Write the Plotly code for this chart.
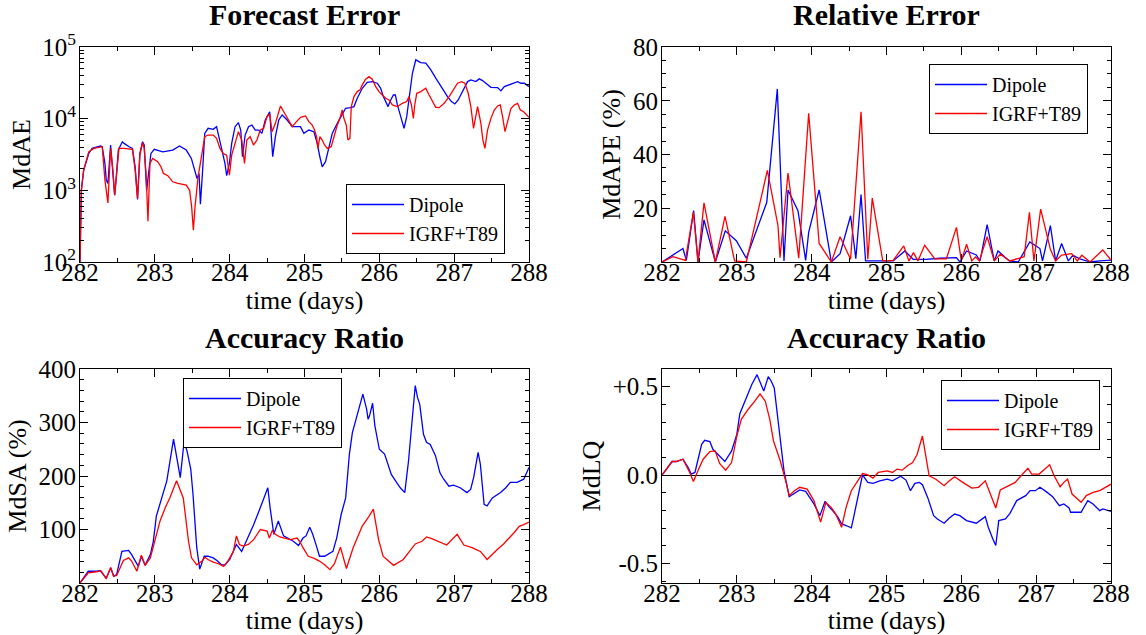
import plotly.graph_objects as go

# ---------------- data ----------------
days_ticks = [282, 283, 284, 285, 286, 287, 288]
series_names = ["Dipole", "IGRF+T89"]

# Panel 1: Forecast Error (MdAE, log scale)
fe_dip_t = [282.000, 282.018, 282.049, 282.117, 282.162, 282.274, 282.297, 282.333, 282.351, 282.373,
            282.409, 282.440, 282.463, 282.485, 282.512, 282.566, 282.589, 282.656, 282.701, 282.737,
            282.769, 282.800, 282.836, 282.858, 282.890, 282.948, 282.993, 283.106, 283.240, 283.330,
            283.420, 283.488, 283.533, 283.564, 283.591, 283.609, 283.636, 283.667, 283.712, 283.780,
            283.825, 283.847, 283.892, 283.937, 283.960, 283.996, 284.027, 284.072, 284.117, 284.148,
            284.171, 284.207, 284.252, 284.297, 284.342, 284.387, 284.431, 284.476, 284.535, 284.575,
            284.611, 284.656, 284.701, 284.768, 284.836, 284.903, 284.946, 284.991, 285.058, 285.125,
            285.170, 285.205, 285.237, 285.281, 285.326, 285.371, 285.438, 285.504, 285.549, 285.616,
            285.661, 285.705, 285.772, 285.839, 285.906, 285.973, 286.018, 286.054, 286.085, 286.116,
            286.152, 286.188, 286.214, 286.241, 286.286, 286.330, 286.366, 286.397, 286.442, 286.487,
            286.554, 286.621, 286.688, 286.754, 286.821, 286.911, 286.964, 287.009, 287.054, 287.112,
            287.179, 287.223, 287.290, 287.335, 287.379, 287.424, 287.491, 287.580, 287.625, 287.670,
            287.737, 287.804, 287.848, 287.893, 287.938, 288.000]
fe_dip_v = [100, 1000, 1910, 3270, 3850, 4150, 4060, 2370, 1390, 1250,
            4290, 1540, 855, 1540, 3650, 4760, 4520, 4060, 3850, 2130,
            745, 3270, 4760, 4290, 1000, 3270, 3730, 3450, 3650, 4150,
            3650, 2790, 1910, 1460, 1720, 641, 1720, 6240, 7330, 7100,
            7730, 6240, 3650, 2370, 1600, 2370, 4520, 7730, 8800, 6940,
            2940, 5910, 7730, 8150, 6940, 6940, 6240, 9580, 12500, 2940,
            5600, 9580, 11250, 9580, 7730, 7730, 7730, 6240, 6940, 6580,
            4520, 2940, 2130, 2510, 4060, 6240, 8610, 11250, 13960, 14260,
            14730, 19250, 26550, 32200, 32900, 31200, 26550, 20300, 17300, 14730,
            18240, 21400, 21400, 15530, 10660, 7330, 10660, 20300, 43000, 66200,
            60700, 59400, 48000, 36700, 28000, 20300, 17300, 16030, 18240, 23860,
            32900, 34750, 32900, 35900, 34000, 31200, 27400, 27150, 24400, 28000,
            29580, 31200, 32900, 31200, 31200, 28000]
fe_igrf_t = [282.000, 282.018, 282.049, 282.117, 282.184, 282.297, 282.333, 282.373, 282.409, 282.440,
             282.463, 282.499, 282.521, 282.589, 282.701, 282.737, 282.769, 282.800, 282.836, 282.858,
             282.885, 282.908, 282.935, 282.971, 283.038, 283.083, 283.115, 283.173, 283.240, 283.308,
             283.420, 283.465, 283.492, 283.515, 283.537, 283.578, 283.622, 283.667, 283.712, 283.780,
             283.825, 283.870, 283.915, 283.960, 283.996, 284.027, 284.072, 284.117, 284.162, 284.198,
             284.229, 284.274, 284.319, 284.364, 284.409, 284.454, 284.499, 284.535, 284.566, 284.611,
             284.679, 284.724, 284.791, 284.836, 284.881, 284.948, 285.013, 285.058, 285.103, 285.134,
             285.161, 285.179, 285.205, 285.237, 285.268, 285.304, 285.357, 285.393, 285.438, 285.473,
             285.504, 285.527, 285.558, 285.580, 285.607, 285.625, 285.661, 285.705, 285.741, 285.772,
             285.817, 285.862, 285.906, 285.951, 285.996, 286.040, 286.085, 286.129, 286.174, 286.241,
             286.308, 286.366, 286.397, 286.429, 286.455, 286.473, 286.500, 286.554, 286.621, 286.665,
             286.710, 286.754, 286.799, 286.866, 286.933, 286.978, 287.045, 287.098, 287.143, 287.188,
             287.223, 287.259, 287.290, 287.313, 287.357, 287.384, 287.411, 287.446, 287.491, 287.536,
             287.580, 287.616, 287.647, 287.679, 287.714, 287.759, 287.804, 287.848, 287.884, 287.929,
             288.000]
fe_igrf_v = [100, 1000, 1910, 3450, 3850, 4060, 1390, 668, 3850, 1910,
             855, 2370, 3850, 3850, 3730, 1910, 769, 3100, 4620, 3850,
             1540, 371, 2370, 2790, 2510, 2130, 1720, 1600, 1315, 1250,
             1180, 1000, 587, 277, 587, 1540, 3100, 5600, 5910, 5910,
             5310, 3850, 3270, 3100, 1630, 3100, 4520, 6580, 5030, 2370,
             5030, 5600, 4290, 5030, 6940, 7330, 10660, 11620, 6580, 8610,
             15040, 12500, 9580, 7730, 8800, 10440, 10900, 9080, 8150, 6940,
             5600, 3850, 5600, 5030, 4290, 3850, 4060, 5600, 8150, 10100,
             13220, 10100, 8150, 5030, 5310, 14730, 20300, 23860, 25180, 29580,
             35500, 38600, 35500, 28000, 23860, 21400, 19250, 18240, 15530, 14730,
             16380, 17300, 20300, 15530, 10100, 15530, 22600, 23860, 26550, 21400,
             17300, 14420, 14260, 16380, 20300, 23860, 31200, 32900, 31200, 22600,
             14730, 7330, 11880, 14730, 8610, 5030, 3850, 6940, 10100, 13220,
             15040, 15530, 10660, 6580, 9080, 13960, 15530, 16380, 13220, 12500,
             10440]

# Panel 2: Relative Error (MdAPE %)
re_dip_t = [282.0, 282.28, 282.325, 282.423, 282.481, 282.561, 282.713, 282.846, 282.993, 283.127,
            283.40, 283.541, 283.630, 283.684, 283.817, 283.92, 283.96, 284.10, 284.263, 284.38,
            284.52, 284.59, 284.66, 284.72, 284.81, 285.0, 285.09, 285.245, 285.356, 285.53,
            285.71, 285.935, 285.98, 286.07, 286.20, 286.25, 286.345, 286.44, 286.49, 286.64,
            286.76, 286.915, 287.05, 287.085, 287.19, 287.26, 287.34, 287.43, 287.49, 287.585,
            287.72, 287.85, 288.0]
re_dip_v = [0, 5.0, 0.6, 19.1, 0, 15.7, 0, 11.6, 7.9, 1.4,
            22.2, 64.4, 0.4, 26.8, 19.1, 0.6, 11, 26.8, 0, 3.1,
            17.2, 1.2, 25.1, 0.4, 0.4, 0.4, 0.4, 4.1, 1.0, 1.0,
            1.4, 1.6, 0, 4.1, 2.6, 0.4, 13.9, 0.4, 4.1, 0.4,
            0, 7.5, 5.0, 0.4, 13.5, 0.4, 6.9, 0.4, 2.5, 1.2,
            0, 0.4, 0.7]
re_igrf_t = [282.0, 282.147, 282.312, 282.419, 282.481, 282.561, 282.713, 282.842, 282.97, 283.127,
             283.408, 283.55, 283.577, 283.684, 283.827, 283.96, 284.10, 284.263, 284.38, 284.52,
             284.66, 284.75, 284.81, 284.95, 285.09, 285.23, 285.30, 285.36, 285.42, 285.51,
             285.645, 285.80, 285.935, 286.0, 286.07, 286.14, 286.19, 286.24, 286.345, 286.44,
             286.52, 286.65, 286.84, 286.91, 286.97, 287.06, 287.19, 287.26, 287.34, 287.475,
             287.55, 287.61, 287.72, 287.89, 288.0]
re_igrf_v = [0, 2.0, 0.6, 18.5, 0, 22.0, 0, 17.0, 0.4, 0,
             34.1, 13.5, 1.6, 33.1, 1.4, 55.3, 6.9, 0, 9.4, 1.0,
             55.9, 1.0, 23.8, 0.4, 0.6, 6.0, 0.4, 3.5, 0.4, 6.2,
             1.2, 1.2, 12.9, 0.4, 6.6, 0.4, 1.9, 0.4, 9.4, 0.4,
             2.9, 0.4, 2.0, 18.5, 0.4, 19.7, 4.7, 0.4, 2.6, 3.1,
             0.4, 2.5, 0, 4.5, 0.7]

# Panel 3: Accuracy Ratio (MdSA %)
sa_dip_t = [282.0, 282.11, 282.22, 282.27, 282.35, 282.41, 282.45, 282.49, 282.56, 282.65,
            282.69, 282.78, 282.82, 282.87, 282.94, 282.98, 283.02, 283.09, 283.16, 283.25,
            283.29, 283.34, 283.39, 283.43, 283.48, 283.51, 283.56, 283.60, 283.66, 283.71,
            283.78, 283.83, 283.89, 283.94, 284.0, 284.09, 284.16, 284.23, 284.32, 284.41,
            284.46, 284.51, 284.54, 284.59, 284.65, 284.72,
            284.85, 284.92, 284.98, 285.02, 285.07, 285.11, 285.16, 285.20, 285.27, 285.34,
            285.38, 285.43, 285.49, 285.55, 285.60, 285.64, 285.67, 285.72, 285.78, 285.83,
            285.85, 285.87, 285.91, 285.94, 286.0, 286.07, 286.16, 286.23, 286.28, 286.34,
            286.39, 286.43, 286.48, 286.51, 286.54, 286.59, 286.63, 286.68, 286.75, 286.81,
            286.86, 286.93, 286.99, 287.08, 287.17, 287.22, 287.26, 287.32, 287.35, 287.40,
            287.44, 287.51, 287.62, 287.69, 287.75, 287.84, 287.93, 288.0]
sa_dip_v = [0, 22, 22, 23, 9, 28, 12.5, 16, 59, 61,
            53, 31, 50, 33, 53, 78, 125, 159, 191, 269,
            234, 197, 263, 247, 213, 166, 66, 26, 50, 50,
            47, 42, 34, 34, 44, 72, 59, 81, 109, 141,
            159, 178, 141, 91, 116, 88,
            78, 70, 84, 88, 104, 91, 69, 50, 50, 56,
            59, 84, 128, 159, 241, 281, 297, 319, 353, 325,
            306, 313, 336, 294, 250, 241, 203, 188, 178, 169,
            228, 291, 369, 347, 334, 278, 263, 259, 238, 206,
            194, 181, 183, 178, 169, 175, 197, 244, 222, 147,
            144, 159, 169, 178, 188, 188, 194, 216]
sa_igrf_t = [282.0, 282.11, 282.22, 282.28, 282.35, 282.41, 282.45, 282.49, 282.58, 282.65,
             282.69, 282.76, 282.82, 282.87, 282.94, 283.0, 283.07, 283.14, 283.20, 283.29,
             283.38, 283.45, 283.49, 283.56, 283.63, 283.67, 283.71, 283.78, 283.85, 283.92,
             283.98, 284.05, 284.09, 284.13, 284.18, 284.25, 284.32, 284.41, 284.50, 284.53,
             284.57, 284.61, 284.67, 284.81, 284.90, 284.94,
             284.98, 285.05, 285.13, 285.20, 285.27, 285.34, 285.40, 285.48, 285.56, 285.65,
             285.77, 285.85, 285.92, 285.99, 286.05, 286.19, 286.32, 286.48, 286.57, 286.63,
             286.70, 286.90, 287.04, 287.13, 287.24, 287.35, 287.44, 287.58, 287.66, 287.80,
             287.87, 287.93, 288.0]
sa_igrf_v = [0, 19, 21, 23, 8, 29, 12.5, 14, 42, 47,
             41, 22, 52, 33, 47, 78, 116, 141, 159, 191,
             159, 78, 47, 34, 41, 48, 44, 39, 36, 31,
             42, 59, 88, 72, 69, 72, 81, 100, 97, 84,
             98, 91, 86, 81, 84, 77,
             66, 50, 46, 41, 34, 25, 36, 67, 27, 66,
             106, 122, 138, 81, 50, 33, 44, 73, 78, 86,
             83, 71, 91, 71, 66, 59, 44, 63, 73, 94,
             106, 109, 114]

# Panel 4: Accuracy Ratio (MdLQ)
lq_dip_t = [282.0, 282.135, 282.19, 282.28, 282.35, 282.39, 282.44, 282.53, 282.57, 282.64,
            282.68, 282.77, 282.84, 282.93, 283.0, 283.04, 283.11, 283.20, 283.27, 283.36,
            283.42, 283.46, 283.50, 283.55, 283.59, 283.63, 283.70, 283.76, 283.84, 283.92,
            283.96, 284.03, 284.11, 284.18, 284.23, 284.28, 284.35, 284.40, 284.46, 284.53,
            284.57, 284.62, 284.68, 284.75, 284.82, 284.91,
            285.01, 285.08, 285.14, 285.19, 285.26, 285.32, 285.38, 285.44, 285.48, 285.55,
            285.63, 285.68, 285.77, 285.84, 285.91, 285.98, 286.07, 286.20, 286.32, 286.36,
            286.42, 286.46, 286.50, 286.59, 286.65, 286.74, 286.86, 286.92, 286.99, 287.05,
            287.13, 287.22, 287.31, 287.37, 287.44, 287.46, 287.60, 287.69, 287.76, 287.85,
            287.89, 288.0]
lq_dip_v = [0, 0.077, 0.077, 0.09, 0.043, 0.006, 0.015, 0.174, 0.197, 0.19,
            0.146, 0.109, 0.077, 0.137, 0.23, 0.347, 0.418, 0.512, 0.568, 0.475,
            0.557, 0.531, 0.493, 0.306, 0.174, 0.024, -0.122, -0.107, -0.084, -0.092,
            -0.116, -0.163, -0.229, -0.148, -0.178, -0.2, -0.238, -0.276, -0.285, -0.298,
            -0.22, -0.126, 0.002, -0.041, -0.047, -0.032,
            -0.023, -0.032, -0.017, -0.006, -0.028, -0.088, -0.047, -0.041, -0.054, -0.126,
            -0.229, -0.248, -0.272, -0.242, -0.22, -0.229, -0.257, -0.272, -0.235, -0.295,
            -0.36, -0.398, -0.257, -0.248, -0.216, -0.144, -0.116, -0.088, -0.088, -0.069,
            -0.092, -0.122, -0.173, -0.163, -0.186, -0.21, -0.21, -0.144, -0.163, -0.201,
            -0.191, -0.205]
lq_igrf_t = [282.0, 282.135, 282.19, 282.28, 282.37, 282.42, 282.48, 282.55, 282.64, 282.71,
             282.77, 282.85, 282.93, 283.0, 283.06, 283.15, 283.24, 283.31, 283.38, 283.44,
             283.49, 283.58, 283.65, 283.70, 283.77, 283.84, 283.94, 284.03, 284.12, 284.19,
             284.26, 284.32, 284.40, 284.46, 284.53, 284.59, 284.68, 284.75, 284.82, 284.89,
             285.01, 285.08, 285.14, 285.21, 285.28, 285.35, 285.41, 285.48, 285.57, 285.66,
             285.77, 285.84, 285.91, 286.02, 286.14, 286.23, 286.32, 286.38, 286.46, 286.52,
             286.61, 286.72, 286.81, 286.89, 286.94, 287.04, 287.18, 287.24, 287.32, 287.37,
             287.42, 287.48, 287.60, 287.67, 287.76, 287.85, 288.0]
lq_igrf_v = [0, 0.077, 0.077, 0.09, 0.015, -0.036, 0.024, 0.09, 0.133, 0.137,
             0.066, 0.028, 0.071, 0.221, 0.315, 0.371, 0.418, 0.46, 0.418, 0.315,
             0.193, 0.081, -0.028, -0.116, -0.088, -0.069, -0.079, -0.144, -0.266, -0.154,
             -0.182, -0.219, -0.295, -0.182, -0.088, -0.051, 0.009, 0.002, -0.017, 0.015,
             0.024, 0.015, 0.034, 0.028, 0.053, 0.071, 0.118, 0.221, -0.004, -0.023,
             -0.06, -0.032, -0.009, -0.041, -0.073, -0.069, -0.032, -0.098, -0.186, -0.084,
             -0.066, -0.041, 0.002, 0.038, 0.006, 0.006, 0.058, -0.004, -0.066, -0.041,
             -0.023, -0.107, -0.154, -0.116, -0.098, -0.088, -0.051]

# ---------------- figure ----------------
FONT = "Liberation Serif"
BLUE = "#0000ff"
RED = "#ff0000"
W, H = 1146, 635

panels = [
    dict(title="Forecast Error", ylabel="MdAE", data=[(fe_dip_t, fe_dip_v), (fe_igrf_t, fe_igrf_v)],
         px=(80, 529), py=(47, 262), legend=(346, 184)),
    dict(title="Relative Error", ylabel="MdAPE (%)", data=[(re_dip_t, re_dip_v), (re_igrf_t, re_igrf_v)],
         px=(662, 1111), py=(47, 262), legend=(929, 64)),
    dict(title="Accuracy Ratio", ylabel="MdSA (%)", data=[(sa_dip_t, sa_dip_v), (sa_igrf_t, sa_igrf_v)],
         px=(80, 529), py=(369, 583), legend=(183, 378)),
    dict(title="Accuracy Ratio", ylabel="MdLQ", data=[(lq_dip_t, lq_dip_v), (lq_igrf_t, lq_igrf_v)],
         px=(662, 1111), py=(369, 583), legend=(941, 380)),
]

fig = go.Figure()
layout = dict(width=W, height=H, margin=dict(l=0, r=0, t=0, b=0, autoexpand=False),
              paper_bgcolor="white", plot_bgcolor="white", annotations=[])

common = dict(showline=True, linecolor="black", linewidth=1, mirror="ticks",
              ticks="inside", ticklen=8, tickwidth=1, tickcolor="black",
              showgrid=False, zeroline=False, automargin=False,
              tickfont=dict(family=FONT, size=25, color="black"))

for i, p in enumerate(panels):
    n = i + 1
    sfx = "" if n == 1 else str(n)
    leg = "legend" if n == 1 else f"legend{n}"
    for (t, v), name, col in zip(p["data"], series_names, [BLUE, RED]):
        assert len(t) == len(v), (p["title"], name, len(t), len(v))
        fig.add_trace(go.Scatter(x=t, y=v, mode="lines", name=name,
                                 line=dict(color=col, width=1.3),
                                 xaxis="x" + sfx, yaxis="y" + sfx, legend=leg))
    x0, x1 = p["px"]
    y0, y1 = p["py"]
    xd = [x0 / W, x1 / W]
    yd = [1 - y1 / H, 1 - y0 / H]
    xa = dict(common, domain=xd, anchor="y" + sfx, range=[282, 288],
              tickvals=days_ticks, ticklabelstandoff=-12,
              minor=dict(dtick=0.5, tick0=282, ticks="inside", ticklen=4, tickcolor="black"),
              title=dict(text="time (days)", font=dict(family=FONT, size=26, color="black"), standoff=0))
    ya = dict(common, domain=yd, anchor="x" + sfx, ticklabelstandoff=-2,
              title=dict(text=p["ylabel"], font=dict(family=FONT, size=26, color="black"), standoff=4))
    if n == 1:
        ya.update(type="log", range=[2, 5], tickvals=[1e2, 1e3, 1e4, 1e5],
                  ticktext=["10<sup>2</sup>", "10<sup>3</sup>", "10<sup>4</sup>", "10<sup>5</sup>"],
                  minor=dict(tickvals=[m * 10 ** e for e in (2, 3, 4) for m in range(2, 10)],
                             ticks="inside", ticklen=4, tickcolor="black"))
    elif n == 2:
        ya.update(range=[0, 80], tickvals=[20, 40, 60, 80],
                  minor=dict(dtick=5, tick0=0, ticks="inside", ticklen=4, tickcolor="black"))
    elif n == 3:
        ya.update(range=[0, 400], tickvals=[100, 200, 300, 400],
                  minor=dict(dtick=20, tick0=0, ticks="inside", ticklen=4, tickcolor="black"))
    else:
        ya.update(range=[-0.61, 0.6], tickvals=[-0.5, 0, 0.5], ticktext=["-0.5", "0.0", "+0.5"],
                  zeroline=True, zerolinecolor="black", zerolinewidth=1,
                  minor=dict(dtick=0.1, tick0=0, ticks="inside", ticklen=4, tickcolor="black"))
    layout["xaxis" + sfx] = xa
    layout["yaxis" + sfx] = ya
    lx, ly = p["legend"]
    layout[leg] = dict(x=lx / W, y=1 - ly / H, xanchor="left", yanchor="top",
                       xref="paper", yref="paper", itemwidth=52,
                       bgcolor="white", bordercolor="black", borderwidth=1,
                       font=dict(family=FONT, size=20, color="black"))
    layout["annotations"].append(dict(
        text="<b>" + p["title"] + "</b>", xref="paper", yref="paper",
        x=(x0 + x1) / 2 / W, y=1 - (y0 - 32) / H, xanchor="center", yanchor="middle",
        showarrow=False, font=dict(family=FONT, size=30, color="black")))

fig.update_layout(**layout)
fig.write_html("out.html", config={"displayModeBar": False},
               post_script="document.body.style.margin='0px';")
